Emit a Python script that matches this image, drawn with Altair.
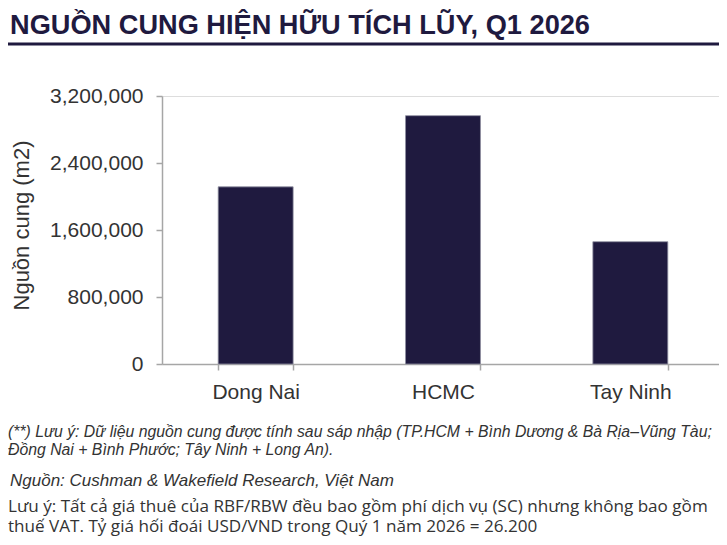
import altair as alt
import pandas as pd

# ---- data ----
categories = ["Dong Nai", "HCMC", "Tay Ninh"]
supply_m2 = [2115000, 2965000, 1460000]
y_ticks = [0, 800000, 1600000, 2400000, 3200000]

title_text = "NGUỒN CUNG HIỆN HỮU TÍCH LŨY, Q1 2026"
y_title = "Nguồn cung (m2)"
note_lines = [
    "(**) Lưu ý: Dữ liệu nguồn cung được tính sau sáp nhập (TP.HCM + Bình Dương & Bà Rịa–Vũng Tàu;",
    "Đồng Nai + Bình Phước; Tây Ninh + Long An).",
]
source_lines = ["Nguồn: Cushman & Wakefield Research, Việt Nam"]
disclaimer_lines = [
    "Lưu ý: Tất cả giá thuê của RBF/RBW đều bao gồm phí dịch vụ (SC) nhưng không bao gồm",
    "thuế VAT. Tỷ giá hối đoái USD/VND trong Quý 1 năm 2026 = 26.200",
]

df = pd.DataFrame({"region": categories, "supply": supply_m2})

NAVY = "#1f1a3f"
GREY = "#a6a6a6"
W, H = 557, 268
X_RANGE = 562

bars = alt.Chart(df).mark_bar(color=NAVY, stroke="#8e8ea0", strokeWidth=0.8).encode(
    x=alt.X(
        "region:N",
        sort=categories,
        scale=alt.Scale(paddingInner=0.6, paddingOuter=0.3, range=[0, X_RANGE]),
        axis=alt.Axis(
            title=None,
            labelAngle=0,
            labelFont="Liberation Sans",
            labelFontSize=21,
            labelColor="#333333",
            labelPadding=11,
            tickBand="extent",
            tickSize=6,
            tickColor=GREY,
            tickWidth=1.5,
            domainColor=GREY,
            domainWidth=1.5,
        ),
    ),
    y=alt.Y(
        "supply:Q",
        scale=alt.Scale(domain=[0, 3200000], nice=False),
        axis=alt.Axis(
            title=y_title,
            titleFont="Liberation Sans",
            titleFontSize=22,
            titleFontWeight="normal",
            titleColor="#333333",
            titlePadding=16,
            titleY=129,
            values=y_ticks,
            format=",d",
            labelFont="Liberation Sans",
            labelFontSize=21,
            labelColor="#333333",
            labelPadding=13,
            tickSize=6,
            tickColor=GREY,
            tickWidth=1.5,
            domainColor=GREY,
            domainWidth=1.5,
            grid=False,
        ),
    ),
)


def text_block(lines, x, y, size, font, style="normal", weight="normal", color="#333333", lh=18):
    return alt.Chart(alt.Data(values=[{"t": "\n".join(lines)}])).mark_text(
        align="left",
        baseline="alphabetic",
        lineBreak="\n",
        lineHeight=lh,
        font=font,
        fontSize=size,
        fontStyle=style,
        fontWeight=weight,
        color=color,
    ).encode(x=alt.value(x), y=alt.value(y), text="t:N")


title = text_block([title_text], -152, -62, 27.2, "Liberation Sans", weight="bold", color=NAVY)
rule = alt.Chart(alt.Data(values=[{"a": 1}])).mark_rule(color=NAVY, strokeWidth=3).encode(
    x=alt.value(-160), x2=alt.value(563), y=alt.value(-52)
)
notes = text_block(note_lines, -154, 340.7, 15.8, "Liberation Sans", style="italic", color="#333333", lh=18.5)
source = text_block(source_lines, -152, 390, 17, "Liberation Sans", style="italic", color="#333333")
disclaimer = text_block(disclaimer_lines, -154, 416, 17.1, "Open Sans", color="#333333", lh=20)

chart = alt.layer(bars, title, rule, notes, source, disclaimer).properties(
    width=W,
    height=H,
    autosize=alt.AutoSizeParams(type="none"),
    padding={"left": 154, "top": 88, "right": 0, "bottom": 173},
).configure_view(stroke=None).configure(background="white")

chart.save("out.html", embed_options={"renderer": "svg", "actions": False})
